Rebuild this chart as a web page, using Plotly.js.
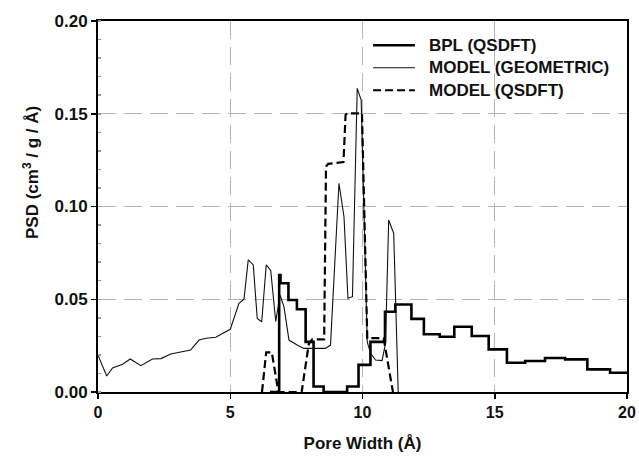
<!DOCTYPE html>
<html>
<head>
<meta charset="utf-8">
<script src="https://cdn.plot.ly/plotly-3.0.1.min.js"></script>
<style>html,body{margin:0;padding:0;background:#fff;}#chart{width:639px;height:459px;}</style>
</head>
<body>
<div id="chart"></div>
<script>
// BPL (QSDFT) – step histogram (value holds from x to next x)
var bplX = [6.5, 6.85, 6.9, 7.2, 7.52, 7.85, 8.15, 8.53, 9.42, 9.85, 10.3, 10.85, 11.24, 11.85, 12.32, 12.92, 13.47, 14.13, 14.77, 15.46, 16.15, 16.9, 17.66, 18.5, 19.36, 20];
var bplY = [0, 0.063, 0.0586, 0.0496, 0.0446, 0.027, 0.003, 0, 0.003, 0.0146, 0.027, 0.0433, 0.0472, 0.0394, 0.0311, 0.0298, 0.0352, 0.0302, 0.023, 0.0158, 0.0167, 0.0183, 0.0176, 0.0122, 0.0104, 0.0104];

// MODEL (GEOMETRIC)
var geoX = [0, 0.33, 0.55, 0.93, 1.22, 1.62, 2.06, 2.38, 2.75, 3.13, 3.5, 3.82, 4.08, 4.45, 4.7, 5.0, 5.33, 5.52, 5.68, 5.87, 6.02, 6.19, 6.36, 6.53, 6.72, 6.88, 7.03, 7.22, 7.53, 7.78, 8.6, 8.79, 9.11, 9.3, 9.45, 9.62, 9.8, 9.95, 10.18, 10.3, 10.49, 10.74, 10.87, 10.99, 11.18, 11.35];
var geoY = [0.0199, 0.0086, 0.013, 0.015, 0.0178, 0.0142, 0.0178, 0.018, 0.0205, 0.0214, 0.0226, 0.028, 0.029, 0.0295, 0.0316, 0.0338, 0.0478, 0.05, 0.0712, 0.0685, 0.0397, 0.0379, 0.0685, 0.0655, 0.038, 0.0523, 0.046, 0.028, 0.0253, 0.0235, 0.0235, 0.0253, 0.1125, 0.0945, 0.0505, 0.0514, 0.1637, 0.1574, 0.027, 0.021, 0.0172, 0.0169, 0.0262, 0.0927, 0.0855, 0];

// MODEL (QSDFT)
var qsX = [6.2, 6.36, 6.57, 6.82, 7.7, 7.97, 8.1, 8.55, 8.62, 8.7, 9.28, 9.36, 9.42, 9.98, 10.18, 10.8, 11.15];
var qsY = [0, 0.0214, 0.0214, 0, 0, 0.026, 0.0284, 0.0284, 0.1215, 0.123, 0.124, 0.1493, 0.1502, 0.1502, 0.029, 0.029, 0];

var seriesNames = ['BPL (QSDFT)', 'MODEL (GEOMETRIC)', 'MODEL (QSDFT)'];
var xTicks = [0, 5, 10, 15, 20];
var yTicks = [0, 0.05, 0.10, 0.15, 0.20];
var yTickText = ['0.00', '0.05', '0.10', '0.15', '0.20'];

var FONT = 'Liberation Sans, Arial, sans-serif';
var lineStyles = [
  {color: '#000', width: 2.6, shape: 'hv'},
  {color: '#111', width: 1.1},
  {color: '#000', width: 2.2, dash: '8px,4px'}
];

var traces = [
  {x: bplX, y: bplY, type: 'scatter', mode: 'lines', name: seriesNames[0], line: lineStyles[0]},
  {x: geoX, y: geoY, type: 'scatter', mode: 'lines', name: seriesNames[1], line: lineStyles[1]},
  {x: qsX, y: qsY, type: 'scatter', mode: 'lines', name: seriesNames[2], line: lineStyles[2]}
];

var axisCommon = {
  showline: true, linecolor: '#000', linewidth: 2, mirror: true,
  ticks: 'outside', ticklen: 5, tickwidth: 1.5, tickcolor: '#000',
  showgrid: true, gridcolor: '#b4b4b4', gridwidth: 1.3, griddash: '18px,8px',
  zeroline: false, fixedrange: true
};

// custom legend (paper coordinates)
var legX0 = 0.520, legX1 = 0.599, legTextX = 0.621;
var legRows = [0.9346, 0.874, 0.8134];
var shapes = [{
  type: 'rect', xref: 'paper', yref: 'paper', x0: 0.5106, x1: 1, y0: 0.7864, y1: 1,
  fillcolor: '#fff', line: {width: 0}, layer: 'between'
}];
var annotations = [{
  xref: 'paper', yref: 'paper', x: -0.127, y: 0.5925,
  xanchor: 'center', yanchor: 'middle', textangle: -90, showarrow: false,
  text: 'PSD (cm<sup>3</sup> / g / Å)',
  font: {family: FONT, size: 17, color: '#111', weight: 'bold'}
}];
seriesNames.forEach(function (nm, i) {
  var ls = lineStyles[i];
  shapes.push({
    type: 'line', xref: 'paper', yref: 'paper', x0: legX0, x1: legX1, y0: legRows[i], y1: legRows[i],
    line: {color: ls.color, width: ls.width, dash: ls.dash || 'solid'}, layer: 'above'
  });
  annotations.push({
    xref: 'paper', yref: 'paper', x: legTextX, y: legRows[i], xanchor: 'left', yanchor: 'middle',
    showarrow: false, text: nm, font: {family: FONT, size: 17, color: '#111', weight: 'bold'}
  });
});

var layout = {
  width: 639, height: 459,
  paper_bgcolor: '#fff', plot_bgcolor: '#fff',
  margin: {l: 97.5, r: 11.7, t: 20.7, b: 67},
  showlegend: false,
  font: {family: FONT, color: '#111'},
  xaxis: Object.assign({}, axisCommon, {
    range: [0, 20], tickmode: 'array', tickvals: xTicks, ticktext: xTicks.map(String),
    tickfont: {family: FONT, size: 16, color: '#111', weight: 'bold'},
    title: {text: 'Pore Width (Å)', font: {family: FONT, size: 17, color: '#111', weight: 'bold'}, standoff: 17}
  }),
  yaxis: Object.assign({}, axisCommon, {
    range: [0, 0.2], tickmode: 'array', tickvals: yTicks, ticktext: yTickText,
    tickfont: {family: FONT, size: 17, color: '#111', weight: 'bold'},
    minor: {ticks: 'inside', ticklen: 3, tickcolor: '#999', dtick: 0.01, showgrid: false}
  }),
  shapes: shapes,
  annotations: annotations
};

Plotly.newPlot('chart', traces, layout, {displayModeBar: false, staticPlot: true});
</script>
</body>
</html>
